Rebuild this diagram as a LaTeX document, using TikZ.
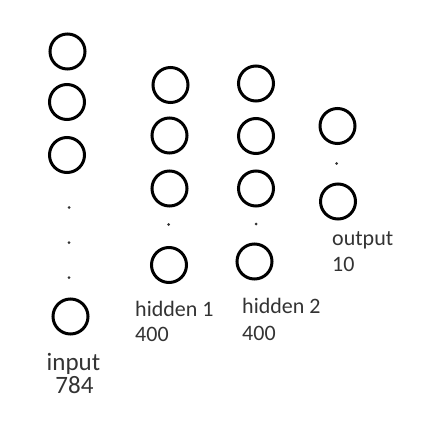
\documentclass[tikz,border=0pt]{standalone}
\usepackage{fontspec}
\setmainfont{Carlito}
\definecolor{txt}{HTML}{333333}
\begin{document}
\begin{tikzpicture}[x=1pt,y=-1pt,
  neuron/.style={circle,draw=black,line width=3pt,minimum size=35pt,inner sep=0pt},
  dotn/.style={circle,fill=black!80,minimum size=3pt,inner sep=0pt},
  lbl/.style={anchor=base west,inner sep=0pt,text=txt,font=\fontsize{22}{22}\selectfont},
  lblin/.style={anchor=base,inner sep=0pt,text=txt,font=\fontsize{25}{25}\selectfont}]
\useasboundingbox (0,0) rectangle (435,430);
% input
\node[neuron] (i1) at (67.5,51.5) {};
\node[neuron] (i2) at (67,102) {};
\node[neuron] (i3) at (67,155) {};
\node[dotn] (id1) at (69,207.5) {};
\node[dotn] (id2) at (69,242.5) {};
\node[dotn] (id3) at (69,277.5) {};
\node[neuron] (i4) at (70.5,316.5) {};
% hidden 1
\node[neuron] (h1) at (170.5,85) {};
\node[neuron] (h2) at (169.5,135.5) {};
\node[neuron] (h3) at (169.5,188.5) {};
\node[dotn] (hd) at (168.5,224.5) {};
\node[neuron] (h4) at (169,265) {};
% hidden 2
\node[neuron] (g1) at (256,83.5) {};
\node[neuron] (g2) at (256,136) {};
\node[neuron] (g3) at (256,188.5) {};
\node[dotn] (gd) at (256,224) {};
\node[neuron] (g4) at (254.5,261.5) {};
% output
\node[neuron] (o1) at (337.5,126) {};
\node[dotn] (od) at (336.5,163.5) {};
\node[neuron] (o2) at (338,201.5) {};
% labels
\node[lbl] (lh1) at (135,316) {hidden 1};
\node[lbl] (lh1n) at (135,341.5) {400};
\node[lbl] (lh2) at (242,313.5) {hidden 2};
\node[lbl] (lh2n) at (242,340) {400};
\node[lbl] (lo) at (332,245) {output};
\node[lbl] (lon) at (332,271.5) {10};
\node[lblin] (lin) at (73.5,370.5) {input};
\node[lblin] (linn) at (74.5,393) {784};
\end{tikzpicture}
\end{document}
